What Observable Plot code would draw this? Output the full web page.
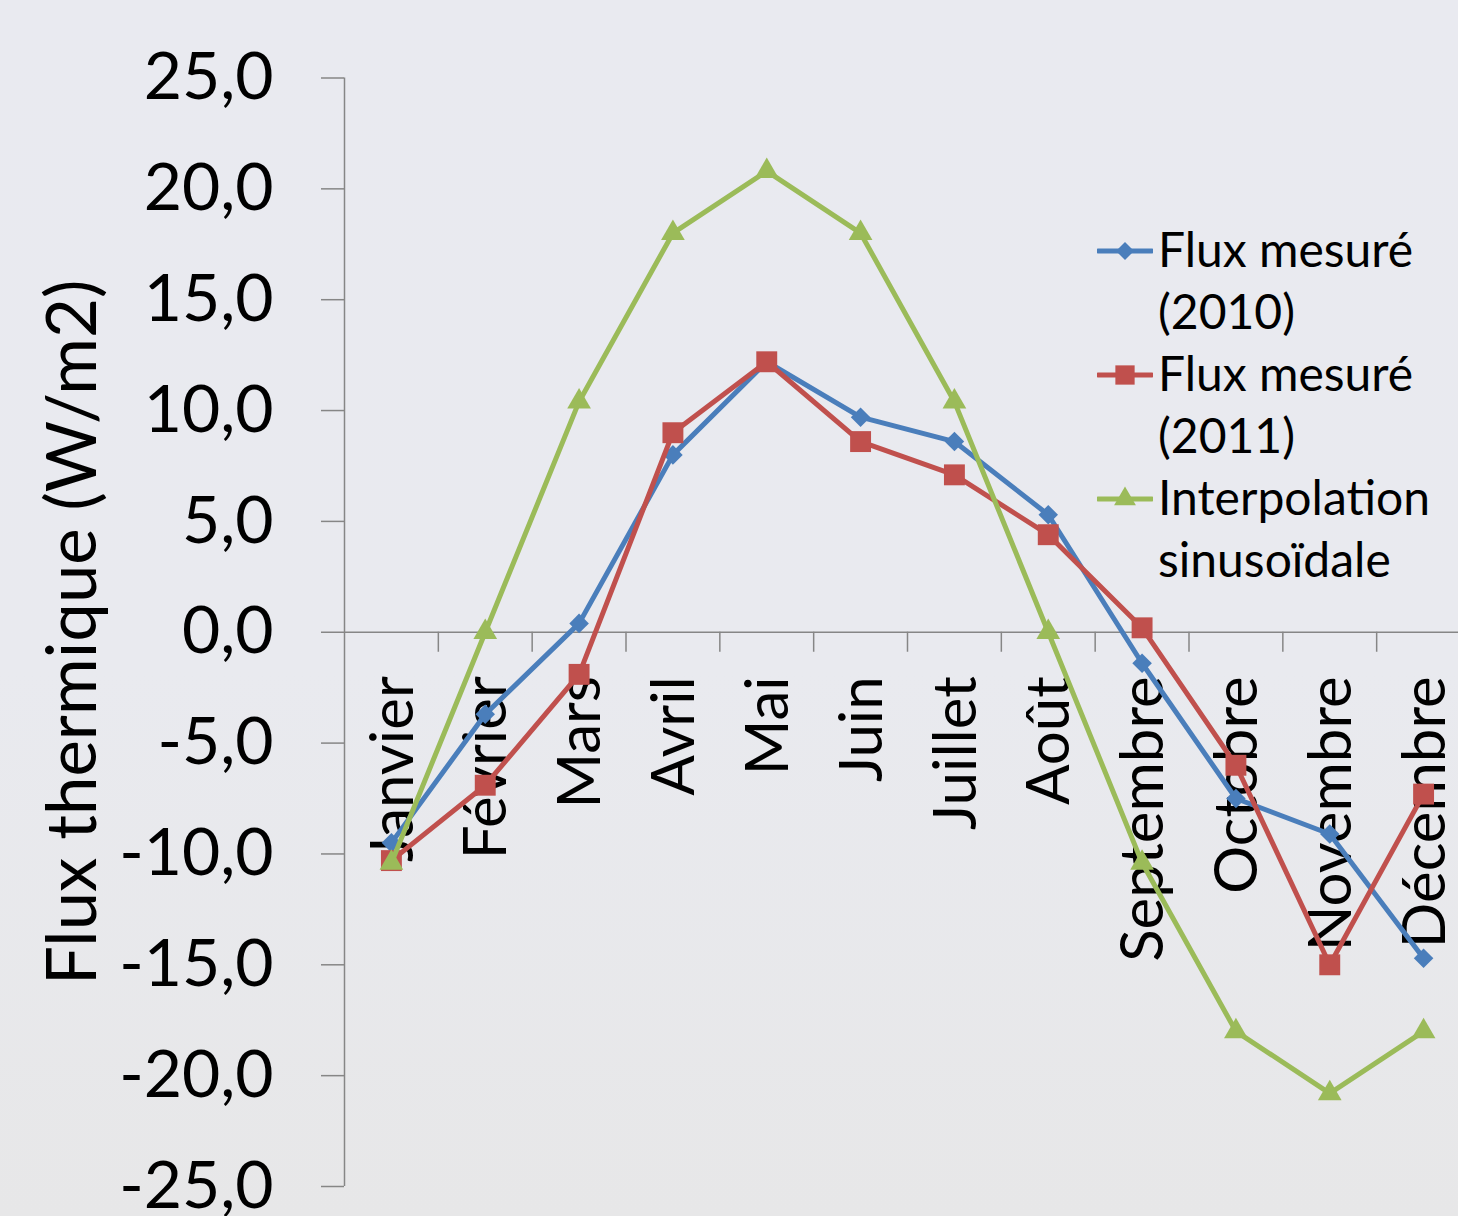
<!DOCTYPE html>
<html>
<head>
<meta charset="utf-8">
<script src="https://cdn.jsdelivr.net/npm/d3@7"></script>
<script src="https://cdn.jsdelivr.net/npm/@observablehq/plot@0.6"></script>
<style>
  html, body { margin: 0; padding: 0; }
  body {
    width: 1458px; height: 1216px; overflow: hidden; position: relative;
    background: linear-gradient(#e9eaf0 0%, #e9eaef 55%, #e7e7e8 100%);
    font-family: Lato, sans-serif;
  }
  #chart { position: absolute; left: 0; top: 0; width: 1458px; height: 1216px; overflow: hidden; }
  #legend { position: absolute; left: 1097px; top: 218px; }
  .item { display: flex; align-items: flex-start; }
  .item svg { flex: none; }
  .label { font-size: 48px; line-height: 62px; color: #000; margin-left: 5px; white-space: nowrap; }
</style>
</head>
<body>
<div id="chart"></div>
<div id="legend"></div>
<script>
// Months on the horizontal axis
const months = ["Janvier", "Février", "Mars", "Avril", "Mai", "Juin", "Juillet", "Août", "Septembre", "Octobre", "Novembre", "Décembre"];

// Monthly heat flux (W/m2)
const flux2010 = [-9.5, -3.7, 0.4, 8.0, 12.2, 9.7, 8.6, 5.3, -1.4, -7.5, -9.1, -14.7];
const flux2011 = [-10.3, -6.9, -1.9, 9.0, 12.2, 8.6, 7.1, 4.4, 0.2, -6.0, -15.0, -7.3];
const sinusoidal = [-10.4, 0.0, 10.4, 18.0, 20.8, 18.0, 10.4, 0.0, -10.4, -18.0, -20.8, -18.0];

// Series names, legend lines, colours and marker shapes
const seriesNames = ["Flux mesuré (2010)", "Flux mesuré (2011)", "Interpolation sinusoïdale"];
const legendLines = [["Flux mesuré", "(2010)"], ["Flux mesuré", "(2011)"], ["Interpolation", "sinusoïdale"]];
const seriesColors = ["#4a7ebb", "#c0504d", "#9bbb59"];
const seriesSymbols = ["diamond2", "square", "triangle"];
const seriesRadius = [8.8, 11.8, 8.8];

// Axis ticks
const yTicks = [-25, -20, -15, -10, -5, 0, 5, 10, 15, 20, 25];
const yTitle = "Flux thermique (W/m2)";

const seriesValues = [flux2010, flux2011, sinusoidal];
const rows = seriesNames.flatMap((name, s) =>
  months.map((month, i) => ({series: name, month, pos: i + 0.5, value: seriesValues[s][i]}))
);
// category boundaries where the small axis ticks sit
const boundaries = d3.range(1, months.length);

const fmt = (d) => d.toFixed(1).replace(".", ",");
const axisColor = "#868686";

const seriesMarks = seriesNames.flatMap((name, s) => [
  Plot.line(rows, {filter: (d) => d.series === name, x: "pos", y: "value", stroke: "series", strokeWidth: 5, strokeLinejoin: "round"}),
  Plot.dot(rows, {filter: (d) => d.series === name, x: "pos", y: "value", fill: "series", symbol: "series", r: seriesRadius[s], stroke: "none"})
]);

const chart = Plot.plot({
  width: 1470,
  height: 1216,
  marginLeft: 344,
  marginRight: 0,
  marginTop: 77.5,
  marginBottom: 30,
  style: {background: "transparent", fontFamily: "Lato, sans-serif", color: "#000", maxWidth: "none"},
  x: {domain: [0, months.length], axis: null},
  y: {domain: [-25, 25], axis: null},
  color: {domain: seriesNames, range: seriesColors},
  symbol: {domain: seriesNames, range: seriesSymbols},
  marks: [
    Plot.axisY({ticks: yTicks, label: null, tickSize: 23, tickPadding: 48, tickFormat: fmt, fontSize: 66, stroke: axisColor, strokeWidth: 1.5}),
    Plot.ruleX([0], {stroke: axisColor, strokeWidth: 1.5}),
    Plot.ruleY([0], {stroke: axisColor, strokeWidth: 1.5}),
    Plot.ruleX(boundaries, {x: (d) => d, y1: () => 0, y2: () => 0, insetBottom: -20, stroke: axisColor, strokeWidth: 1.5}),
    Plot.text(months, {x: (d, i) => i + 0.5, y: () => 0, text: (d) => d, rotate: -90, textAnchor: "end", lineAnchor: "middle", dy: 44, dx: 2, fontSize: 60, fill: "#000"}),
    Plot.text([yTitle], {frameAnchor: "left", text: (d) => d, rotate: -90, textAnchor: "middle", lineAnchor: "middle", dx: -271, fontSize: 69, fill: "#000"}),
    ...seriesMarks
  ]
});
document.getElementById("chart").appendChild(chart);

// Legend: line sample with marker, then the wrapped series name
const legend = d3.select("#legend");
seriesNames.forEach((name, s) => {
  const item = legend.append("div").attr("class", "item");
  const svg = item.append("svg").attr("width", 56).attr("height", 62);
  svg.append("line").attr("x1", 1).attr("x2", 55).attr("y1", 33).attr("y2", 33)
    .attr("stroke", seriesColors[s]).attr("stroke-width", 5).attr("stroke-linecap", "round");
  const symbolType = {diamond2: d3.symbolDiamond2, square: d3.symbolSquare, triangle: d3.symbolTriangle}[seriesSymbols[s]];
  svg.append("path").attr("transform", "translate(28,33)")
    .attr("d", d3.symbol(symbolType, Math.PI * seriesRadius[s] * seriesRadius[s] * 0.85)())
    .attr("fill", seriesColors[s]);
  item.append("div").attr("class", "label").html(legendLines[s].join("<br>"));
});
</script>
</body>
</html>
